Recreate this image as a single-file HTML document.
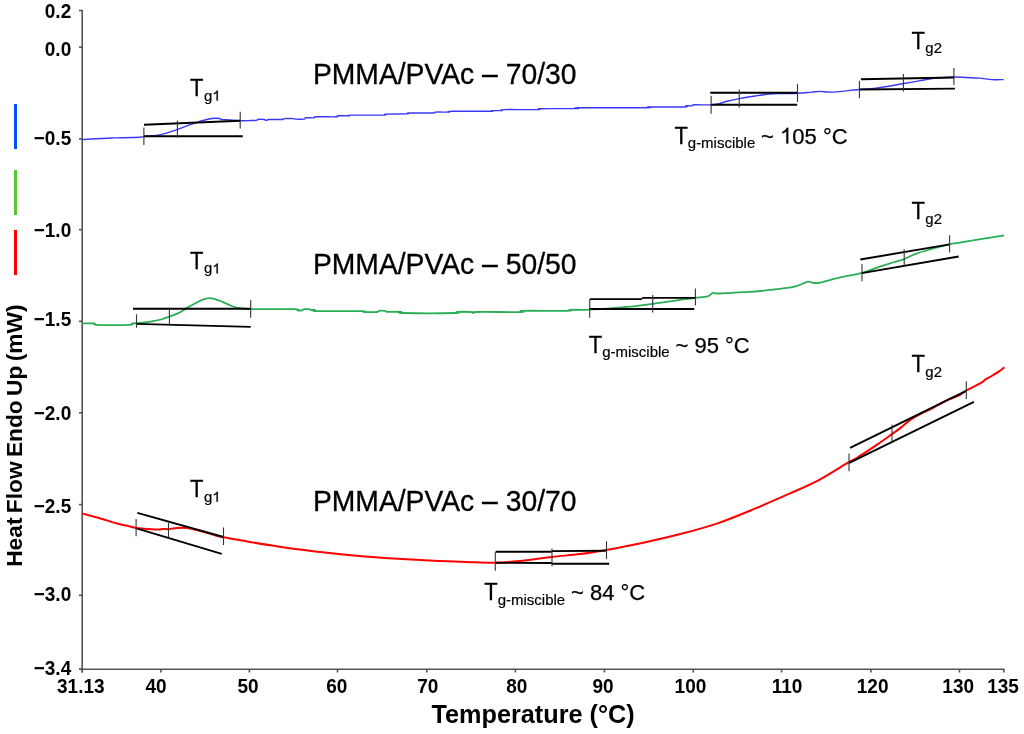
<!DOCTYPE html>
<html><head><meta charset="utf-8"><style>
html,body{margin:0;padding:0;background:#fff;width:1024px;height:734px;overflow:hidden}
svg{display:block;will-change:transform}
text{font-family:"Liberation Sans", sans-serif}
</style></head><body>
<svg width="1024" height="734" viewBox="0 0 1024 734">
<g stroke="#555" stroke-width="1.6" fill="none">
<line x1="82.2" y1="10" x2="82.2" y2="672.5"/>
<line x1="79" y1="669.3" x2="1004.5" y2="669.3"/>
<line x1="79" y1="10.5" x2="82.2" y2="10.5"/>
<line x1="79" y1="47.2" x2="82.2" y2="47.2"/>
<line x1="79" y1="138.9" x2="82.2" y2="138.9"/>
<line x1="79" y1="229.7" x2="82.2" y2="229.7"/>
<line x1="79" y1="321.3" x2="82.2" y2="321.3"/>
<line x1="79" y1="412.8" x2="82.2" y2="412.8"/>
<line x1="79" y1="504.6" x2="82.2" y2="504.6"/>
<line x1="79" y1="595.3" x2="82.2" y2="595.3"/>
<line x1="79" y1="669.2" x2="82.2" y2="669.2"/>
<line x1="82.2" y1="669.3" x2="82.2" y2="672.5"/>
<line x1="160.9" y1="669.3" x2="160.9" y2="672.5"/>
<line x1="249.4" y1="669.3" x2="249.4" y2="672.5"/>
<line x1="337.5" y1="669.3" x2="337.5" y2="672.5"/>
<line x1="426.8" y1="669.3" x2="426.8" y2="672.5"/>
<line x1="515.4" y1="669.3" x2="515.4" y2="672.5"/>
<line x1="604.4" y1="669.3" x2="604.4" y2="672.5"/>
<line x1="693.3" y1="669.3" x2="693.3" y2="672.5"/>
<line x1="781.6" y1="669.3" x2="781.6" y2="672.5"/>
<line x1="870.9" y1="669.3" x2="870.9" y2="672.5"/>
<line x1="959.5" y1="669.3" x2="959.5" y2="672.5"/>
<line x1="1003.8" y1="669.3" x2="1003.8" y2="672.5"/>
</g>
<rect x="14" y="104" width="3" height="45" fill="#0050ff"/>
<rect x="14" y="170" width="3" height="45" fill="#5ac832"/>
<rect x="14" y="230" width="3" height="45" fill="#ff0000"/>
<path d="M82.0,139.6 C84.3,139.4 90.7,139.0 96.0,138.7 C101.3,138.4 106.3,138.2 113.6,137.9 C120.9,137.7 134.9,137.5 140.0,137.2 C145.1,136.9 142.1,136.5 144.4,136.3 C146.7,136.1 150.3,136.3 154.0,135.8 C157.7,135.3 162.6,134.1 166.4,133.1 C170.2,132.1 173.4,130.8 176.9,129.6 C180.4,128.4 184.3,126.9 187.5,125.7 C190.7,124.5 193.4,123.5 196.3,122.6 C199.2,121.6 202.4,120.7 205.0,120.0 C207.6,119.3 209.7,118.8 212.0,118.5 C214.3,118.2 217.3,118.3 219.1,118.5 C220.9,118.7 220.8,119.3 222.6,119.6 C224.4,119.8 226.8,119.8 229.7,120.0 C232.6,120.2 236.7,120.7 240.2,120.8 C243.7,120.9 248.1,120.6 250.7,120.5 C253.3,120.4 254.8,120.6 256.0,120.4 C257.2,120.2 256.7,119.7 258.0,119.5 C259.3,119.3 262.6,119.3 264.0,119.5 C265.4,119.7 265.7,120.4 266.5,120.4 C267.3,120.4 266.4,119.7 269.0,119.5 C271.6,119.3 279.5,119.7 282.0,119.5 C284.5,119.3 282.2,118.8 284.0,118.6 C285.8,118.4 291.0,118.5 293.0,118.6 C295.0,118.7 294.2,119.0 296.0,119.1 C297.8,119.2 302.3,119.3 304.0,119.1 C305.7,118.9 304.3,118.0 306.0,117.8 C307.7,117.6 312.3,118.0 314.0,117.8 C315.7,117.6 312.3,117.0 316.0,116.8 C319.7,116.6 332.3,117.0 336.0,116.8 C339.7,116.6 335.8,116.0 338.0,115.8 C340.2,115.6 346.8,115.9 349.0,115.8 C351.2,115.7 345.2,115.2 351.0,115.1 C356.8,115.0 378.2,115.3 384.0,115.1 C389.8,114.9 382.2,114.3 386.0,114.1 C389.8,113.9 403.2,114.0 407.0,113.8 C410.8,113.6 404.7,113.1 409.0,113.0 C413.3,112.9 428.7,113.2 433.0,113.0 C437.3,112.8 432.3,112.2 435.0,112.1 C437.7,111.9 446.3,112.2 449.0,112.1 C451.7,112.0 444.2,111.4 451.0,111.3 C457.8,111.2 483.2,111.4 490.0,111.3 C496.8,111.2 490.0,110.7 492.0,110.6 C494.0,110.5 500.0,110.8 502.0,110.6 C504.0,110.4 498.0,109.8 504.0,109.6 C510.0,109.4 532.0,109.8 538.0,109.6 C544.0,109.4 533.5,108.9 540.0,108.7 C546.5,108.5 570.5,108.8 577.0,108.6 C583.5,108.4 567.3,107.9 579.0,107.8 C590.7,107.7 635.3,107.9 647.0,107.8 C658.7,107.7 642.8,107.1 649.0,107.0 C655.2,106.9 677.8,107.2 684.0,107.0 C690.2,106.8 684.7,106.0 686.0,105.8 C687.3,105.6 690.7,106.0 692.0,105.8 C693.3,105.6 690.9,104.9 694.0,104.8 C697.1,104.7 706.7,105.0 710.7,104.9 C714.8,104.8 715.6,104.6 718.3,104.0 C721.0,103.4 723.4,102.2 726.9,101.3 C730.4,100.4 735.6,99.3 739.2,98.6 C742.8,97.9 745.0,97.5 748.3,97.0 C751.6,96.5 755.5,95.9 759.1,95.4 C762.7,94.9 766.0,94.3 769.8,94.0 C773.5,93.7 777.0,93.7 781.6,93.6 C786.2,93.5 792.7,93.5 797.7,93.2 C802.7,93.0 807.8,92.4 811.5,92.1 C815.2,91.8 816.5,91.4 820.1,91.4 C823.7,91.4 826.6,92.4 833.0,92.1 C839.4,91.8 851.6,90.2 858.7,89.5 C865.9,88.8 868.4,89.2 875.9,88.2 C883.4,87.2 896.7,84.7 903.9,83.5 C911.1,82.3 913.5,81.8 918.9,80.9 C924.3,80.0 930.2,78.8 936.1,78.1 C942.0,77.4 949.3,77.1 954.3,77.0 C959.3,76.9 962.1,77.3 966.2,77.5 C970.3,77.7 974.7,77.8 979.0,78.1 C983.3,78.4 987.8,79.3 991.9,79.6 C996.0,79.8 1001.7,79.6 1003.7,79.6" fill="none" stroke="#3838f8" stroke-width="1.4" stroke-linejoin="round"/>
<path d="M82.0,323.4 C84.0,323.4 91.8,323.2 94.3,323.4 C96.8,323.6 91.1,324.6 97.0,324.8 C102.9,325.0 123.7,325.0 129.5,324.8 C135.3,324.6 130.3,323.7 132.1,323.4 C133.8,323.1 136.6,323.4 140.0,323.0 C143.4,322.6 148.8,321.9 152.3,321.3 C155.8,320.7 158.2,320.3 161.1,319.5 C163.9,318.7 166.5,317.8 169.4,316.7 C172.3,315.6 175.7,314.4 178.7,312.9 C181.7,311.4 184.6,309.3 187.5,307.6 C190.4,305.9 193.4,304.2 196.3,302.7 C199.2,301.2 202.4,299.5 205.0,298.8 C207.6,298.1 209.7,298.0 212.0,298.3 C214.3,298.6 216.4,299.5 219.1,300.5 C221.8,301.5 225.0,303.2 227.9,304.4 C230.8,305.6 232.9,306.8 236.7,307.6 C240.5,308.4 246.5,308.7 250.7,309.0 C254.9,309.3 254.6,309.2 262.0,309.2 C269.4,309.2 289.1,308.9 295.0,309.1 C300.9,309.3 296.3,310.1 297.5,310.3 C298.7,310.5 300.9,310.5 302.0,310.3 C303.1,310.1 302.8,309.4 304.0,309.2 C305.2,309.0 307.8,309.1 309.0,309.2 C310.2,309.3 310.0,309.9 311.0,310.0 C312.0,310.1 314.0,309.8 315.0,310.0 C316.0,310.2 309.2,310.9 317.0,311.1 C324.8,311.3 354.2,311.0 362.0,311.1 C369.8,311.2 361.5,311.9 364.0,312.0 C366.5,312.1 374.5,312.2 377.0,312.0 C379.5,311.8 377.7,311.0 379.0,310.8 C380.3,310.6 383.7,310.6 385.0,310.8 C386.3,311.0 384.3,311.6 387.0,311.8 C389.7,312.0 398.3,311.6 401.0,311.8 C403.7,312.0 394.0,312.8 403.0,313.0 C412.0,313.2 446.0,313.2 455.0,313.0 C464.0,312.8 454.4,312.2 457.0,312.0 C459.6,311.8 467.8,311.8 470.5,312.0 C473.2,312.2 472.5,313.0 473.5,313.0 C474.5,313.0 468.6,312.2 476.5,312.0 C484.4,311.8 513.2,312.2 521.0,312.0 C528.8,311.8 515.2,311.0 523.0,310.8 C530.8,310.6 560.2,311.0 568.0,310.8 C575.8,310.6 566.4,310.0 570.0,309.8 C573.6,309.6 581.3,310.0 589.4,309.6 C597.5,309.2 611.9,308.1 618.7,307.6 C625.5,307.1 624.7,307.3 630.4,306.7 C636.1,306.1 645.5,304.8 652.7,303.8 C659.9,302.8 668.3,301.6 673.8,300.8 C679.3,300.0 681.9,299.6 685.5,299.1 C689.1,298.6 691.7,298.4 695.4,297.9 C699.1,297.4 704.7,297.1 707.6,296.3 C710.5,295.5 711.4,293.3 712.9,292.8 C714.4,292.3 713.8,293.4 716.4,293.5 C719.0,293.6 724.3,293.3 728.7,293.1 C733.1,292.9 737.4,292.6 742.7,292.2 C748.0,291.8 753.8,291.6 760.3,291.0 C766.8,290.4 775.5,289.5 781.4,288.7 C787.3,287.9 791.1,287.6 795.5,286.4 C799.9,285.2 804.9,282.3 807.8,281.7 C810.7,281.1 811.0,282.8 813.0,282.9 C815.0,283.0 815.7,283.5 820.1,282.6 C824.5,281.7 832.4,279.3 839.4,277.7 C846.4,276.1 855.9,274.5 862.3,272.8 C868.7,271.1 872.6,269.1 877.7,267.4 C882.8,265.7 888.4,263.9 892.8,262.5 C897.2,261.1 900.4,260.6 904.2,259.1 C908.0,257.7 911.2,255.5 915.6,253.8 C920.0,252.2 925.0,250.8 930.7,249.2 C936.4,247.6 944.6,245.5 949.6,244.4 C954.6,243.3 955.3,243.4 961.0,242.4 C966.7,241.4 976.5,239.8 983.7,238.6 C990.9,237.4 1000.7,235.9 1004.1,235.3" fill="none" stroke="#2aae55" stroke-width="1.8" stroke-linejoin="round"/>
<path d="M82.0,513.4 C84.9,514.2 93.7,516.5 99.6,518.2 C105.5,519.9 112.8,522.3 117.2,523.5 C121.6,524.7 122.8,524.9 126.0,525.6 C129.2,526.3 133.2,527.4 136.1,527.9 C139.0,528.4 139.9,528.4 143.5,528.7 C147.1,529.0 154.4,529.5 157.6,529.6 C160.8,529.7 160.8,529.2 162.9,529.1 C165.0,529.0 167.6,529.3 169.9,529.1 C172.2,528.9 174.0,528.1 176.9,527.9 C179.8,527.7 184.3,527.5 187.5,527.9 C190.7,528.2 193.4,529.3 196.3,530.0 C199.2,530.7 202.1,531.4 205.0,532.2 C207.9,533.0 210.7,534.1 213.8,534.9 C216.9,535.7 217.9,536.1 223.5,537.2 C229.1,538.3 238.8,540.0 247.3,541.5 C255.8,543.0 265.6,544.5 274.7,545.9 C283.8,547.3 292.9,548.5 302.0,549.7 C311.1,550.9 320.3,552.0 329.4,553.0 C338.5,554.0 347.6,554.9 356.7,555.7 C365.8,556.5 375.0,557.3 384.1,557.9 C393.2,558.5 402.3,559.0 411.4,559.5 C420.5,560.0 429.7,560.5 438.8,560.9 C447.9,561.3 456.6,561.7 466.1,562.0 C475.6,562.3 486.7,563.0 495.7,562.8 C504.7,562.6 510.6,562.0 520.0,561.0 C529.4,560.0 542.0,558.0 552.0,556.9 C562.0,555.8 571.0,555.2 580.0,554.1 C589.0,553.0 595.5,551.9 606.0,550.0 C616.5,548.1 630.7,545.4 643.2,542.7 C655.8,540.0 669.0,537.0 681.3,533.8 C693.6,530.6 704.9,527.6 716.8,523.6 C728.6,519.6 740.1,514.8 752.4,509.7 C764.7,504.6 779.9,497.9 790.5,493.2 C801.1,488.5 806.7,486.5 815.8,481.7 C824.9,476.9 839.4,467.7 845.0,464.4 C850.6,461.1 847.3,463.1 849.4,461.9 C851.5,460.7 854.2,459.5 857.7,457.4 C861.2,455.3 866.6,451.7 870.4,449.2 C874.2,446.7 877.0,444.6 880.5,442.2 C884.0,439.8 887.9,437.0 891.3,434.6 C894.7,432.2 897.6,430.1 900.9,427.6 C904.2,425.1 907.6,421.7 911.0,419.4 C914.4,417.1 917.8,415.4 921.2,413.6 C924.6,411.9 927.1,411.1 931.3,408.9 C935.5,406.7 942.1,402.5 946.6,400.3 C951.1,398.1 954.7,397.5 958.0,395.9 C961.3,394.3 962.6,392.6 966.3,390.5 C970.0,388.4 976.9,385.2 980.2,383.3 C983.5,381.4 983.9,380.5 985.9,379.2 C987.9,377.9 990.3,376.8 992.5,375.5 C994.7,374.2 997.1,372.8 999.1,371.4 C1001.1,370.0 1003.5,368.0 1004.4,367.3" fill="none" stroke="#ff0000" stroke-width="2" stroke-linejoin="round"/>
<g stroke="#000" stroke-width="1.9" fill="none">
<line x1="144" y1="124.7" x2="240.2" y2="120.8"/>
<line x1="143.9" y1="136.3" x2="242.8" y2="136.3"/>
<line x1="710.2" y1="92.7" x2="797.2" y2="92.7"/>
<line x1="710.7" y1="104.8" x2="797.2" y2="104.8"/>
<line x1="860.9" y1="79.2" x2="954.3" y2="77.5"/>
<line x1="859.8" y1="89.5" x2="955" y2="88.6"/>
<line x1="133" y1="308.8" x2="250.7" y2="308.8"/>
<line x1="136.5" y1="323.9" x2="250.7" y2="326.9"/>
<line x1="590" y1="299.1" x2="642.1" y2="299.1"/>
<line x1="642.1" y1="297.9" x2="695.4" y2="297.9"/>
<line x1="590" y1="309" x2="694.3" y2="309"/>
<line x1="860.3" y1="259.5" x2="949.6" y2="244.4"/>
<line x1="861.8" y1="273.1" x2="958.7" y2="256.5"/>
<line x1="137.4" y1="512.9" x2="223.5" y2="537"/>
<line x1="136.5" y1="528.4" x2="221.7" y2="553.9"/>
<line x1="495.7" y1="551.7" x2="551.8" y2="551.7"/>
<line x1="551.8" y1="551.1" x2="605.8" y2="550.7"/>
<line x1="495.7" y1="562.8" x2="551.8" y2="563"/>
<line x1="551.8" y1="563.7" x2="609.2" y2="563.7"/>
<line x1="850.1" y1="447.9" x2="966.2" y2="390.8"/>
<line x1="848.8" y1="463.2" x2="973.9" y2="401.8"/>
</g>
<g stroke="#333" stroke-width="1.1" fill="none">
<line x1="143.9" y1="127.5" x2="143.9" y2="145.1"/>
<line x1="177.4" y1="120.5" x2="177.4" y2="137.5"/>
<line x1="240.2" y1="111.7" x2="240.2" y2="128.4"/>
<line x1="711.1" y1="95.7" x2="711.1" y2="113.7"/>
<line x1="739.2" y1="89.5" x2="739.2" y2="107.6"/>
<line x1="797.5" y1="83.9" x2="797.5" y2="101.9"/>
<line x1="859.4" y1="80.7" x2="859.4" y2="98.2"/>
<line x1="903.4" y1="73.9" x2="903.4" y2="91.5"/>
<line x1="953.9" y1="68" x2="953.9" y2="85"/>
<line x1="136.5" y1="314.3" x2="136.5" y2="327.8"/>
<line x1="169.4" y1="307.6" x2="169.4" y2="325.2"/>
<line x1="250.7" y1="300" x2="250.7" y2="317.8"/>
<line x1="589.7" y1="299.1" x2="589.7" y2="317.8"/>
<line x1="652.7" y1="295" x2="652.7" y2="312.5"/>
<line x1="695.4" y1="288.5" x2="695.4" y2="305.5"/>
<line x1="862" y1="264.1" x2="862" y2="281.3"/>
<line x1="904.2" y1="249.2" x2="904.2" y2="265.9"/>
<line x1="949.6" y1="235.3" x2="949.6" y2="252.6"/>
<line x1="136.1" y1="519.1" x2="136.1" y2="536.3"/>
<line x1="168.5" y1="522.6" x2="168.5" y2="537.5"/>
<line x1="223.5" y1="527.5" x2="223.5" y2="545.1"/>
<line x1="495.3" y1="551.7" x2="495.3" y2="570.8"/>
<line x1="552" y1="548.4" x2="552" y2="566.2"/>
<line x1="606.5" y1="541.2" x2="606.5" y2="558.9"/>
<line x1="849" y1="453.6" x2="849" y2="471.3"/>
<line x1="892" y1="424.7" x2="892" y2="440.9"/>
<line x1="966.3" y1="381.3" x2="966.3" y2="398.9"/>
</g>
<g font-family='"Liberation Sans", sans-serif' font-weight="bold" font-size="19" fill="#000" text-anchor="end">
<text transform="translate(71.2,18.0) scale(1,1.07)" >0.2</text>
<text transform="translate(71.2,56.2) scale(1,1.07)" >0.0</text>
<text transform="translate(71.2,145.0) scale(1,1.07)" >−0.5</text>
<text transform="translate(71.2,236.5) scale(1,1.07)" >−1.0</text>
<text transform="translate(71.2,325.8) scale(1,1.07)" >−1.5</text>
<text transform="translate(71.2,420.4) scale(1,1.07)" >−2.0</text>
<text transform="translate(71.2,512.5) scale(1,1.07)" >−2.5</text>
<text transform="translate(71.2,600.9) scale(1,1.07)" >−3.0</text>
<text transform="translate(71.2,674.5) scale(1,1.07)" >−3.4</text>
</g>
<g font-family='"Liberation Sans", sans-serif' font-weight="bold" font-size="19" fill="#000" text-anchor="middle">
<text transform="translate(80.8,693.4) scale(1,1.07)" >31.13</text>
<text transform="translate(156.1,693.4) scale(1,1.07)" >40</text>
<text transform="translate(248.0,693.4) scale(1,1.07)" >50</text>
<text transform="translate(336.7,693.4) scale(1,1.07)" >60</text>
<text transform="translate(427.8,693.4) scale(1,1.07)" >70</text>
<text transform="translate(516.8,693.4) scale(1,1.07)" >80</text>
<text transform="translate(603.0,693.4) scale(1,1.07)" >90</text>
<text transform="translate(690.4,693.4) scale(1,1.07)" >100</text>
<text transform="translate(787.0,693.4) scale(1,1.07)" >110</text>
<text transform="translate(872.6,693.4) scale(1,1.07)" >120</text>
<text transform="translate(958.2,693.4) scale(1,1.07)" >130</text>
<text transform="translate(1003.0,693.4) scale(1,1.07)" >135</text>
</g>
<text transform="translate(533.1,723.3) scale(1,1.04)" font-family='"Liberation Sans", sans-serif' font-weight="bold" font-size="25.25" text-anchor="middle">Temperature (°C)</text>
<text transform="translate(21.6,566.8) rotate(-90) scale(1.034,1)" font-family='"Liberation Sans", sans-serif' font-weight="bold" font-size="22" word-spacing="-1.9">Heat Flow Endo Up (mW)</text>
<text transform="translate(312.9,84.4) scale(1,1.035)" font-family='"Liberation Sans", sans-serif' font-size="28.3" stroke="#000" stroke-width="0.3">PMMA/PVAc – 70/30</text>
<text transform="translate(312.9,274.4) scale(1,1.035)" font-family='"Liberation Sans", sans-serif' font-size="28.3" stroke="#000" stroke-width="0.3">PMMA/PVAc – 50/50</text>
<text transform="translate(312.9,511.1) scale(1,1.035)" font-family='"Liberation Sans", sans-serif' font-size="28.3" stroke="#000" stroke-width="0.3">PMMA/PVAc – 30/70</text>
<text transform="translate(190.0,96.0) scale(1,1.05)" font-family='"Liberation Sans", sans-serif' font-size="22" stroke="#000" stroke-width="0.25">T</text><text transform="translate(203.9,100.6) scale(1,0.93)" font-family='"Liberation Sans", sans-serif' font-size="15" stroke="#000" stroke-width="0.2">g</text><path transform="translate(212.24,100.60) scale(0.00732,-0.00681)" d="M763,0 L583,0 L583,1147 Q518,1085 412,1023 Q306,961 212,926 L212,1100 Q360,1170 472,1270 Q584,1370 630,1466 L763,1466 Z" fill="#000" stroke="#000" stroke-width="27.3"/>
<text transform="translate(911.4,48.8) scale(1,1.05)" font-family='"Liberation Sans", sans-serif' font-size="22" stroke="#000" stroke-width="0.25">T</text><text transform="translate(925.3,53.4) scale(1,0.93)" font-family='"Liberation Sans", sans-serif' font-size="15" stroke="#000" stroke-width="0.2">g2</text>
<text transform="translate(190.0,268.8) scale(1,1.05)" font-family='"Liberation Sans", sans-serif' font-size="22" stroke="#000" stroke-width="0.25">T</text><text transform="translate(203.9,273.4) scale(1,0.93)" font-family='"Liberation Sans", sans-serif' font-size="15" stroke="#000" stroke-width="0.2">g</text><path transform="translate(212.24,273.40) scale(0.00732,-0.00681)" d="M763,0 L583,0 L583,1147 Q518,1085 412,1023 Q306,961 212,926 L212,1100 Q360,1170 472,1270 Q584,1370 630,1466 L763,1466 Z" fill="#000" stroke="#000" stroke-width="27.3"/>
<text transform="translate(911.4,219.0) scale(1,1.05)" font-family='"Liberation Sans", sans-serif' font-size="22" stroke="#000" stroke-width="0.25">T</text><text transform="translate(925.3,223.6) scale(1,0.93)" font-family='"Liberation Sans", sans-serif' font-size="15" stroke="#000" stroke-width="0.2">g2</text>
<text transform="translate(190.0,497.1) scale(1,1.05)" font-family='"Liberation Sans", sans-serif' font-size="22" stroke="#000" stroke-width="0.25">T</text><text transform="translate(203.9,501.7) scale(1,0.93)" font-family='"Liberation Sans", sans-serif' font-size="15" stroke="#000" stroke-width="0.2">g</text><path transform="translate(212.24,501.70) scale(0.00732,-0.00681)" d="M763,0 L583,0 L583,1147 Q518,1085 412,1023 Q306,961 212,926 L212,1100 Q360,1170 472,1270 Q584,1370 630,1466 L763,1466 Z" fill="#000" stroke="#000" stroke-width="27.3"/>
<text transform="translate(911.4,372.1) scale(1,1.05)" font-family='"Liberation Sans", sans-serif' font-size="22" stroke="#000" stroke-width="0.25">T</text><text transform="translate(925.3,376.7) scale(1,0.93)" font-family='"Liberation Sans", sans-serif' font-size="15" stroke="#000" stroke-width="0.2">g2</text>
<text transform="translate(674.4,143.6) scale(1,1.05)" font-family='"Liberation Sans", sans-serif' font-size="22" stroke="#000" stroke-width="0.25">T</text><text transform="translate(687.8,148.3) scale(1,0.93)" font-family='"Liberation Sans", sans-serif' font-size="15" stroke="#000" stroke-width="0.2">g-miscible</text><text transform="translate(761.1,143.6) scale(1,1.0)" font-family='"Liberation Sans", sans-serif' font-size="22" stroke="#000" stroke-width="0.25">~</text><path transform="translate(780.06,143.60) scale(0.01074,-0.01074)" d="M763,0 L583,0 L583,1147 Q518,1085 412,1023 Q306,961 212,926 L212,1100 Q360,1170 472,1270 Q584,1370 630,1466 L763,1466 Z" fill="#000" stroke="#000" stroke-width="23.3"/><text transform="translate(792.3,143.6) scale(1,1.0)" font-family='"Liberation Sans", sans-serif' font-size="22" stroke="#000" stroke-width="0.25">05 °C</text>
<text transform="translate(588.8,352.5) scale(1,1.05)" font-family='"Liberation Sans", sans-serif' font-size="22" stroke="#000" stroke-width="0.25">T</text><text transform="translate(602.2,357.2) scale(1,0.93)" font-family='"Liberation Sans", sans-serif' font-size="15" stroke="#000" stroke-width="0.2">g-miscible</text><text transform="translate(675.5,352.5) scale(1,1.0)" font-family='"Liberation Sans", sans-serif' font-size="22" stroke="#000" stroke-width="0.25">~ 95 °C</text>
<text transform="translate(484.3,600.1) scale(1,1.05)" font-family='"Liberation Sans", sans-serif' font-size="22" stroke="#000" stroke-width="0.25">T</text><text transform="translate(497.7,604.8) scale(1,0.93)" font-family='"Liberation Sans", sans-serif' font-size="15" stroke="#000" stroke-width="0.2">g-miscible</text><text transform="translate(571.0,600.1) scale(1,1.0)" font-family='"Liberation Sans", sans-serif' font-size="22" stroke="#000" stroke-width="0.25">~ 84 °C</text>
</svg>
</body></html>
